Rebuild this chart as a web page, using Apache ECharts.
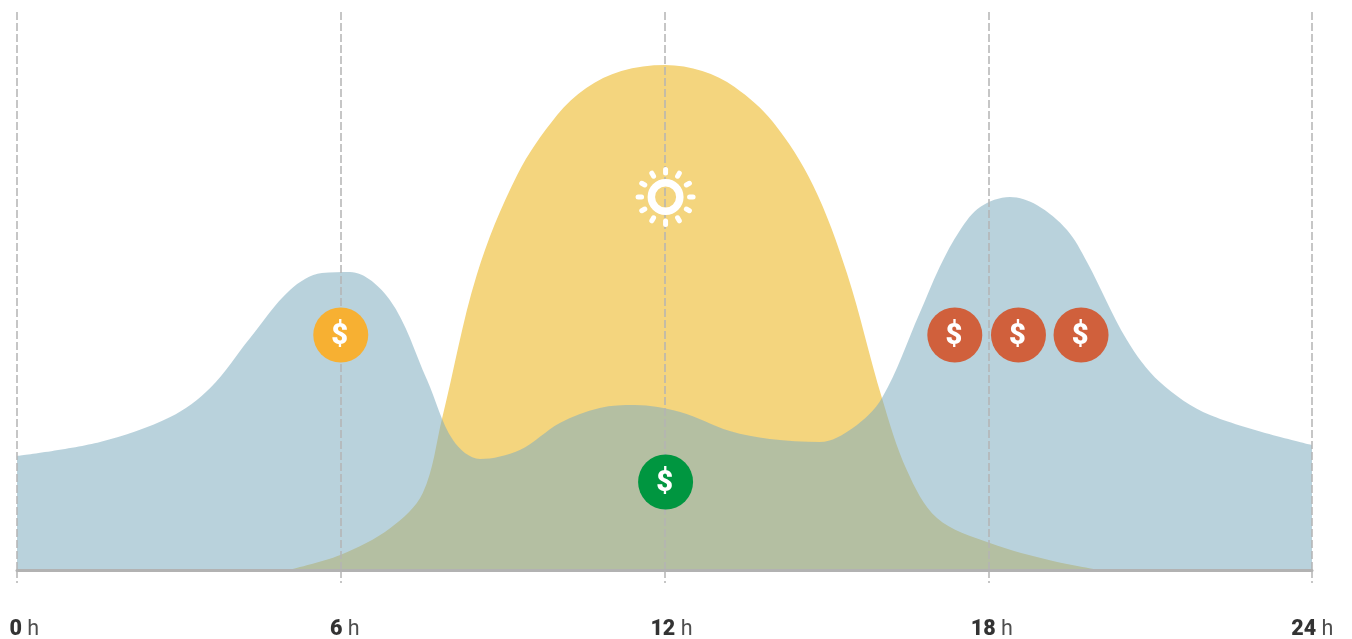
<!DOCTYPE html>
<html>
<head>
<meta charset="utf-8">
<style>html,body{margin:0;padding:0;background:#fff}#chart{width:1352px;height:639px}</style>
<script src="https://cdn.jsdelivr.net/npm/echarts@6/dist/echarts.min.js"></script>
</head>
<body>
<div id="chart"></div>
<script>
// Hours on the clock and the relative load reached at each of them
const gridHours = [0, 6, 12, 18, 24];
const gridDemandHours = [0,1.54,2.84,3.58,4.32,5.06,5.65,6.17,6.91,7.60,8.08,8.58,9.32,10.06,10.80,11.45,12.29,13.21,13.95,14.88,15.49,16.03,16.73,17.10,17.48,17.85,18.40,18.90,19.46,19.83,20.57,21.18,22.11,24];
const gridDemand = [114,128,153,182,232,280,297,298,270,190,130,111,120,147,162,165,158,139,131,128,142,172,257,303,340,363,373,365,340,308,230,188,155,125];
const solarHours = [5.02,5.99,6.92,7.52,7.88,8.52,9.27,10.01,10.55,11.20,12.01,12.70,13.30,14.01,14.75,15.38,16.03,16.49,17.05,18.03,19.20,20.07];
const solarOutput = [0,15,42,77,152,295,395,455,482,499,505,499,483,448,385,297,172,100,52,27,9,0];
const priceMarks = [
  { name: 'mid', hour: 6, level: 235, color: '#f7b032' },
  { name: 'low', hour: 12.02, level: 88, color: '#009640' },
  { name: 'high', hour: 17.38, level: 235, color: '#d0603c' },
  { name: 'high', hour: 18.56, level: 235, color: '#d0603c' },
  { name: 'high', hour: 19.72, level: 235, color: '#d0603c' }
];
const sunMark = [12.02, 373];

const FONT = 'Roboto';
const DASH = [8, 3];
const chart = echarts.init(document.getElementById('chart'), null, { renderer: 'canvas' });

// Sun pictogram: a white ring and twelve rounded rays around it
function renderSun(params, api) {
  const c = api.coord([api.value(0), api.value(1)]);
  const children = [{
    type: 'circle',
    shape: { cx: c[0], cy: c[1], r: 14.25 },
    style: { fill: 'none', stroke: '#fff', lineWidth: 7.5 }
  }];
  for (let i = 0; i < 12; i++) {
    const a = i * Math.PI / 6;
    children.push({
      type: 'line',
      shape: {
        x1: c[0] + 24 * Math.cos(a), y1: c[1] + 24 * Math.sin(a),
        x2: c[0] + 27.5 * Math.cos(a), y2: c[1] + 27.5 * Math.sin(a)
      },
      style: { stroke: '#fff', lineWidth: 5, lineCap: 'round' }
    });
  }
  return { type: 'group', children };
}

chart.setOption({
  animation: false,
  backgroundColor: '#fff',
  grid: { left: 17, right: 40, top: 12, bottom: 69 },
  xAxis: {
    type: 'value', min: 0, max: 24, interval: 6, z: 5,
    axisLine: { show: true, onZero: false, lineStyle: { color: '#b2b2b2', width: 3 } },
    axisTick: { show: true, length: 13, lineStyle: { color: '#b4b4b4', width: 1.5, type: DASH } },
    axisLabel: { show: false },
    splitLine: { show: true, lineStyle: { color: '#b4b4b4', width: 1.5, type: DASH } }
  },
  yAxis: { type: 'value', min: 0, max: 558, show: false },
  series: [
    {
      type: 'line', name: 'Solar', z: 2, smooth: 0.34, symbol: 'none', silent: true,
      data: solarHours.map((h, i) => [h, solarOutput[i]]),
      lineStyle: { width: 0 },
      areaStyle: { color: '#f4d57e', opacity: 1 }
    },
    {
      type: 'line', name: 'Demand', z: 3, smooth: 0.34, symbol: 'none', silent: true,
      data: gridDemandHours.map((h, i) => [h, gridDemand[i]]),
      lineStyle: { width: 0 },
      areaStyle: { color: '#80adbf', opacity: 0.55 }
    },
    {
      type: 'scatter', name: 'Price', z: 10, symbol: 'circle', symbolSize: 55, silent: true,
      data: priceMarks.map(m => ({
        name: m.name, value: [m.hour, m.level], itemStyle: { color: m.color, opacity: 1 }
      })),
      label: {
        show: true, position: 'inside', formatter: '$', color: '#fff', offset: [-1, 2],
        fontFamily: FONT, fontWeight: 900, fontSize: 29
      }
    },
    {
      type: 'custom', name: 'Sun', z: 10, silent: true, clip: false,
      data: [sunMark], renderItem: renderSun
    },
    {
      // Hour captions sit under the axis, drifting left of their tick across the day
      type: 'scatter', name: 'Hours', z: 10, symbolSize: 1, silent: true, clip: false,
      itemStyle: { color: 'transparent' },
      data: gridHours.map(h => ({
        value: [h, 0],
        label: {
          show: true, align: 'left', verticalAlign: 'middle',
          position: [-7 - 0.55 * h, 60],
          formatter: '{n|' + h + '} {u|h}',
          rich: {
            n: { fontFamily: FONT, fontWeight: 900, fontSize: 21.5, color: '#000' },
            u: { fontFamily: FONT, fontSize: 21.5, color: '#222', padding: [0, 0, 0, 2] }
          }
        }
      }))
    }
  ]
});
</script>
</body>
</html>
